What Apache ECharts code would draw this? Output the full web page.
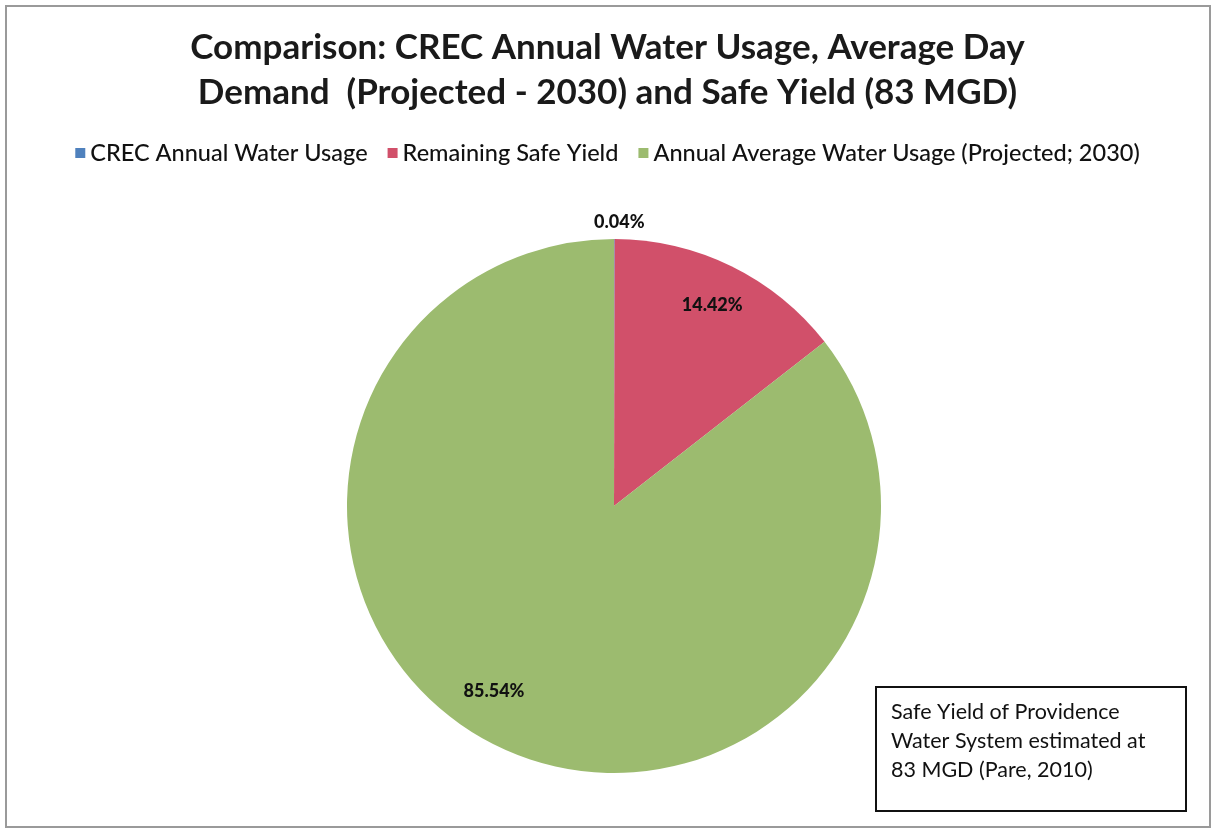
<!DOCTYPE html>
<html>
<head>
<meta charset="utf-8">
<title>CREC Water Usage vs Safe Yield</title>
<script src="https://cdn.jsdelivr.net/npm/echarts@6/dist/echarts.min.js"></script>
<style>
  html, body { margin: 0; padding: 0; background: #ffffff; }
  #chart { width: 1215px; height: 830px; }
</style>
</head>
<body>
<div id="chart"></div>
<script>
// Shares of the 83 MGD safe yield, in percent
const categories = [
  'CREC Annual Water Usage',
  'Remaining Safe Yield',
  'Annual Average Water Usage (Projected; 2030)'
];
const shares = [0.04, 14.42, 85.54];
const colors = ['#4F81BD', '#D1506A', '#9CBB6F'];

const FONT = 'Lato, "Open Sans", sans-serif';
const CENTER = [614, 506];
const RADIUS = 267;

const chart = echarts.init(document.getElementById('chart'), null, { renderer: 'canvas' });

const pieData = categories.map((name, i) => ({
  name: name,
  value: shares[i],
  itemStyle: { color: colors[i] }
}));

const fmt = p => p.value.toFixed(2) + '%';
const labelText = { fontFamily: FONT, fontWeight: 900, fontSize: 18, color: '#111' };

chart.setOption({
  animation: false,
  backgroundColor: '#ffffff',
  title: {
    text: 'Comparison: CREC Annual Water Usage, Average Day\nDemand  (Projected - 2030) and Safe Yield (83 MGD)',
    left: 'center',
    top: 20,
    textStyle: {
      fontFamily: FONT,
      fontWeight: 'bold',
      fontSize: 35,
      lineHeight: 45,
      color: '#1a1a1a'
    }
  },
  legend: {
    data: categories,
    top: 136,
    left: 'center',
    icon: 'rect',
    itemWidth: 10,
    itemHeight: 10,
    itemGap: 20,
    textStyle: { fontFamily: FONT, fontWeight: 500, fontSize: 23.5, color: '#111' },
    selectedMode: false
  },
  series: [
    {
      // the pie itself; only the thin first slice carries its label outside
      type: 'pie',
      name: 'share',
      center: CENTER,
      radius: [0, RADIUS],
      startAngle: 90,
      clockwise: true,
      silent: true,
      data: pieData.map((d, i) => Object.assign({}, d, {
        label: i === 0
          ? Object.assign({ show: true, position: 'outside', formatter: fmt }, labelText)
          : { show: false },
        labelLine: { show: false }
      })),
      labelLine: { show: false, length: 17, length2: 0 },
      labelLayout: { align: 'center' }
    },
    {
      // transparent ring that carries the inner percentage labels near the rim
      type: 'pie',
      name: 'labels',
      center: CENTER,
      radius: [RADIUS * 0.65, RADIUS],
      startAngle: 90,
      clockwise: true,
      silent: true,
      legendHoverLink: false,
      itemStyle: { color: 'rgba(0,0,0,0)' },
      data: pieData.map((d, i) => ({
        name: d.name,
        value: d.value,
        itemStyle: { color: 'rgba(0,0,0,0)' },
        label: i === 0
          ? { show: false }
          : Object.assign({ show: true, position: 'inside', formatter: fmt }, labelText)
      })),
      // the large slice's label sits a little further round, toward the left
      labelLayout: p => (p.dataIndex === 2 ? { dx: -22, dy: -15 } : {})
    }
  ],
  graphic: [
    {
      // chart frame
      type: 'rect',
      shape: { x: 6, y: 6, width: 1204, height: 821 },
      style: { fill: null, stroke: '#9a9a9a', lineWidth: 2 },
      silent: true
    },
    {
      type: 'group',
      left: 875,
      top: 686,
      children: [
        {
          type: 'rect',
          shape: { x: 0, y: 0, width: 310, height: 124 },
          style: { fill: '#ffffff', stroke: '#111', lineWidth: 2 }
        },
        {
          type: 'text',
          x: 15,
          y: 11,
          style: {
            text: 'Safe Yield of Providence\nWater System estimated at\n83 MGD (Pare, 2010)',
            fontFamily: FONT,
            fontSize: 21.5,
            lineHeight: 29,
            fill: '#111'
          }
        }
      ]
    }
  ]
});
</script>
</body>
</html>
